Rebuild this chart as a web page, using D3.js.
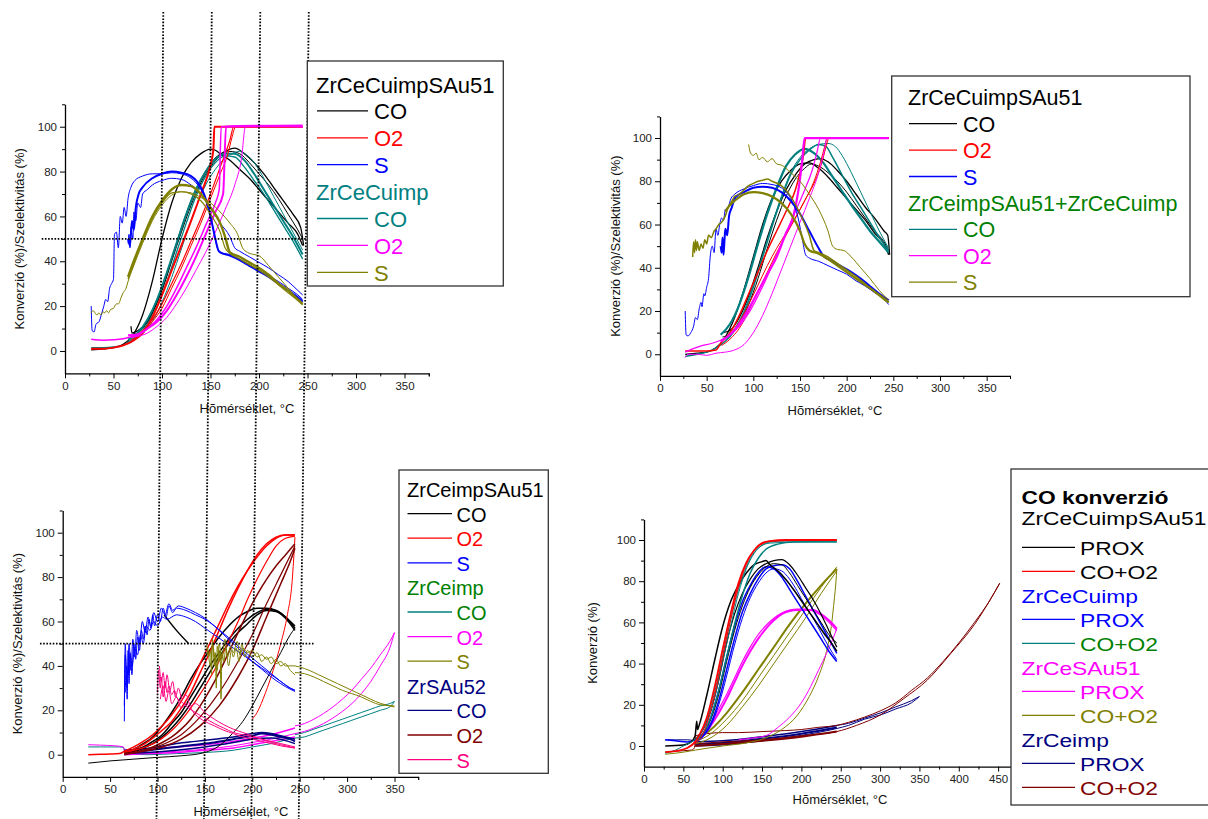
<!DOCTYPE html>
<html><head><meta charset="utf-8">
<script src="https://cdn.jsdelivr.net/npm/d3@7"></script>
<style>body{margin:0;background:#fff}svg{display:block}text{font-family:Arial,"Liberation Sans",sans-serif}</style>
</head><body><svg id="c" width="1208" height="819"></svg>
<script>
// ---------------- DATA ----------------
const xTicks = [0,50,100,150,200,250,300,350];
const xTicks4 = [0,50,100,150,200,250,300,350,400,450];
const yTicks = [0,20,40,60,80,100];
const refTemps = [100,150,200,250];
const refSel = 50;

// Panel 1
const p1_CO_a=[[27,0.5],[40,1],[50,1.5],[60,3],[70,7],[80,16],[90,31],[100,50],[110,66],[120,77],[130,84],[140,88],[150,90],[155,89.5],[160,88],[170,85],[180,81],[190,77],[200,72],[210,67],[220,62],[230,57],[240,52],[245,47]];
const p1_CO_b=[[68,11],[69,8],[75,9],[85,13],[95,22],[105,34],[115,48],[125,61],[135,72],[145,80],[155,86],[165,89],[175,90.5],[185,88],[195,84],[205,79],[215,73],[225,67],[235,61],[243,55],[246,47]];
const p1_CO_c=[[68,7],[80,10],[90,17],[100,27],[110,40],[120,53],[130,65],[140,75],[150,82],[160,87],[170,89],[180,88],[190,84],[200,79],[210,74],[220,68],[230,61],[240,54],[245,50]];
const p1_tCO_a=[[27,1.5],[40,1.5],[50,1.8],[60,2.5],[65,4],[75,7],[85,12],[95,20],[105,31],[115,44],[125,57],[135,69],[145,78],[155,84],[165,87],[175,86.5],[185,82],[195,76],[205,70],[215,63],[225,56],[235,49],[245,41]];
const p1_tCO_b=[[65,5],[75,8],[85,14],[95,23],[105,35],[115,48],[125,61],[135,72],[145,80],[155,85.5],[165,88],[175,88],[185,85],[195,79],[205,72],[215,65],[225,58],[235,51],[245,43]];
const p1_tCO_c=[[65,4],[75,6],[85,10],[95,17],[105,27],[115,39],[125,52],[135,64],[145,74],[155,81],[165,86],[175,88.5],[180,89],[185,88],[195,84],[205,77],[215,69],[225,61],[235,53],[245,45]];
const p1_O2_a=[[27,1],[40,1],[50,1.5],[60,2.5],[70,4.5],[80,8],[90,15],[100,25],[110,36],[120,47],[130,58],[140,70],[150,83],[153,90],[154,100],[170,100],[200,100],[245,100]];
const p1_O2_b=[[68,6],[80,9],[90,14],[100,21],[110,30],[120,39],[130,49],[140,59],[150,70],[160,82],[170,94],[174,100],[200,100],[245,100]];
const p1_O2_c=[[68,5],[80,8],[90,13],[100,19],[110,28],[120,37],[130,47],[140,57],[150,68],[160,79],[168,88],[172,95],[176,100],[245,100]];
const p1_mO2_a=[[27,5.2],[40,4.8],[50,5],[60,5.5],[65,6],[75,7],[85,10],[95,14],[105,20],[115,28],[125,37],[135,46],[145,56],[155,66],[159,72],[161,100],[200,100.5],[245,100]];
const p1_mO2_b=[[65,7],[75,7.5],[85,10],[95,13],[105,18],[115,25],[125,33],[135,42],[145,52],[155,62],[163,70],[166,100],[245,100.5]];
const p1_mO2_c=[[65,6],[75,6.5],[85,8],[95,11],[105,15],[115,21],[125,28],[135,36],[145,44],[155,53],[165,63],[175,74],[182,86],[186,100],[245,100]];
const p1_S_a=[[27,20],[28,9],[30,8.5],[32,12],[35,13],[38,17],[40,20],[42,23],[44,22],[46,28],[48,30],[50,32],[51,52],[53,53],[55,46],[57,60],[59,57],[61,64],[63,60],[65,68],[68,73],[72,76],[80,78],[90,79],[100,79],[110,79.5],[120,79],[130,77],[140,72],[148,64],[153,54],[157,46],[160,44],[170,43],[180,41],[190,38.5],[200,36],[210,33.5],[220,31],[230,28],[240,25],[245,23]];
const p1_S_b=[[65,48],[66,52],[67,46],[68,55],[70,50],[71,62],[73,58],[75,66],[78,64],[80,70],[85,72],[90,74],[100,76],[110,77],[120,76.5],[130,74],[140,70],[150,64],[160,57],[170,51],[175,46],[180,44.5],[190,42],[200,39.5],[210,37],[220,34],[230,31],[240,27],[245,25]];
const p1_S_c=[[65,50],[67,47],[69,58],[71,54],[73,64],[76,70],[80,73],[90,77],[100,79],[110,80],[120,79.5],[130,78],[140,73],[145,68],[150,60],[155,50],[158,45],[160,44],[170,42.5],[180,40.5],[190,38],[200,35.5],[210,33],[220,30],[230,27],[240,24],[245,22]];
const p1_oS_a=[[27,17],[29,18],[31,17],[33,16],[35,17],[37,16],[39,17.5],[41,17],[43,18],[45,17],[47,18.5],[50,19],[53,21],[55,21],[58,24],[60,26],[63,28],[65,31],[70,37],[80,48],[90,58],[100,65],[110,69.5],[120,71],[130,70.5],[140,68.5],[150,66],[160,62],[170,57],[178,52],[183,46],[188,44],[195,43],[200,42.5],[210,38],[220,33],[230,28],[240,23],[245,21]];
const p1_oS_b=[[65,33],[70,39],[80,50],[90,60],[100,67],[110,72],[120,74],[130,73.5],[140,70],[150,64],[160,57],[165,51],[170,44],[180,42],[190,39.5],[200,37],[210,34],[220,30],[230,27],[240,23],[245,21]];
const p1_oS_c=[[65,32],[70,38],[80,49],[90,59],[100,66],[110,70.5],[120,71],[130,70],[140,67],[150,61],[160,53],[165,46],[170,43.5],[180,41],[190,38.5],[200,36],[210,33],[220,29.5],[230,26],[240,22.5],[245,20.5]];

// Panel 2
const p2_CO_a=[[27,0],[40,0.5],[50,1],[60,3],[70,8],[80,17],[90,30],[100,45],[110,60],[120,72],[130,80],[140,85],[150,88],[160,88.5],[170,86],[180,82],[190,77],[200,72],[210,67],[220,62],[230,56],[240,51],[245,46]];
const p2_CO_b=[[67,10],[75,11],[85,17],[95,27],[105,40],[115,54],[125,66],[135,76],[145,83],[155,88],[165,90],[172,90.5],[180,89],[190,85],[200,80],[210,74],[220,68],[230,63],[240,57],[244,55],[246,46]];
const p2_CO_c=[[67,8],[75,9],[85,14],[95,23],[105,35],[115,49],[125,62],[135,73],[145,81],[155,86],[162,88],[170,87],[180,84],[190,80],[200,75],[210,69],[220,63],[230,57],[240,52],[245,48]];
const p2_tCO_a=[[65,9],[75,14],[85,23],[95,36],[105,51],[115,65],[125,77],[135,87],[145,92.5],[155,95],[165,93],[175,88.5],[185,82],[195,75.5],[205,69],[215,63],[225,57],[235,52],[245,47]];
const p2_tCO_b=[[27,-1],[40,0],[50,1],[60,3],[70,6],[80,11],[90,19],[100,31],[110,45],[120,59],[130,72],[140,83],[150,90],[160,94.5],[170,97],[178,96],[185,91],[195,83],[205,75],[215,68],[225,61],[235,54],[245,48]];
const p2_tCO_c=[[70,7],[80,12],[90,20],[100,32],[110,46],[120,60],[130,73],[140,84],[150,91],[160,95],[170,97],[180,97.5],[188,96],[195,92],[205,84],[215,75],[225,66],[235,57],[245,49]];
const p2_O2_a=[[27,1.5],[40,1.5],[50,1.5],[60,2],[65,5],[75,10],[85,18],[95,28],[105,38],[115,48],[125,57],[135,66],[145,76],[150,84],[154,93],[156,100],[200,100],[245,100]];
const p2_O2_b=[[65,6],[75,9],[85,15],[95,23],[105,32],[115,41],[125,49],[135,56],[145,63],[155,71],[165,80],[172,89],[177,97],[179,100],[245,100]];
const p2_O2_c=[[66,4],[75,7],[85,12],[95,20],[105,29],[115,38],[125,47],[135,55],[145,63],[155,71],[165,79],[173,88],[178,96],[181,100],[245,100]];
const p2_mO2_a=[[27,-1.5],[30,0],[40,0],[50,-0.5],[60,0.5],[70,1],[80,2],[90,4.5],[100,10],[110,18],[120,28],[130,39],[140,50],[150,61],[160,72],[170,84],[176,94],[179,100],[245,100]];
const p2_mO2_b=[[65,6],[75,9],[85,14],[95,21],[105,29],[115,37],[125,45],[135,56],[143,64],[148,75],[152,88],[155,100],[200,100],[245,100]];
const p2_mO2_c=[[27,1],[35,2.5],[45,4],[55,5],[65,6.5],[75,9],[85,13],[95,19],[105,27],[115,36],[125,46],[135,56],[145,66],[155,76],[163,85],[168,93],[172,100],[245,100]];
const p2_S_a=[[27,20],[28,9],[30,8.5],[33,10],[36,13],[38,17],[40,16],[42,21],[44,24],[45,22],[47,28],[48,27],[50,31],[52,35],[54,46],[56,50],[58,47],[60,58],[62,55],[64,60],[66,63],[68,62],[70,67],[73,68],[76,72],[80,74],[90,76.5],[100,78],[110,79],[120,78.5],[130,77],[140,72],[148,63],[153,52],[156,46],[160,44.5],[170,43],[180,41],[190,39],[200,37],[210,34],[220,31.5],[230,28.5],[240,25.5],[245,23]];
const p2_S_b=[[65,50],[66,47],[67,54],[68,46],[69,52],[70,58],[72,55],[74,64],[77,68],[80,72],[85,74],[90,75],[100,77],[110,77.5],[120,77],[130,75],[140,71],[150,65],[160,57],[170,49],[175,45.5],[185,43],[195,40.5],[205,38],[215,35],[225,31.5],[235,28],[245,25]];
const p2_oS_a=[[35,45],[36,52],[37,47],[38,53],[39,48],[40,52],[42,48],[44,51],[46,49],[48,53],[50,51],[52,55],[55,54],[58,57],[60,58],[63,60],[66,61],[70,64],[73,68],[76,70],[80,73],[85,74],[90,76],[95,78],[100,79],[105,80],[110,80.5],[115,81],[120,80],[130,78],[140,73],[150,65],[160,55],[165,48],[170,47],[180,45],[190,42],[200,39],[210,36],[220,32.5],[230,29],[240,26],[245,24]];
const p2_oS_b=[[70,66],[75,69],[80,71],[90,74],[100,75],[110,74.5],[120,73],[130,70],[140,65],[150,57],[155,51],[160,48],[170,46.5],[180,44],[190,41],[200,38],[210,35],[220,32],[230,29],[240,25.5],[245,24]];
const p2_oS_c=[[95,97],[97,93],[100,92],[103,93],[106,90],[110,91],[115,89],[120,90.5],[125,88],[130,87.5],[140,84],[150,80],[160,74],[170,67],[180,57],[185,50],[190,48.5],[197,48],[205,45],[215,40],[225,35],[235,29.5],[245,25]];

// Panel 3
const p3_CO_a=[[27,-3.8],[50,-2.8],[75,-2],[100,-1.2],[125,-0.5],[150,1],[165,4],[180,10],[190,15],[200,22],[210,30],[220,38],[230,46],[240,54],[245,57]];
const p3_CO_b=[[65,1],[75,2.5],[85,5],[95,8],[105,13],[115,19],[125,26],[135,34],[145,41],[155,47],[165,53],[175,58],[185,62],[195,64.5],[205,66],[215,66],[225,65],[235,62],[245,57]];
const p3_CO_c=[[65,1],[75,2],[85,3.5],[95,6],[105,9],[115,14],[125,19],[135,26],[145,33],[155,40],[165,46],[175,52],[185,57],[195,61],[205,64],[215,65.5],[225,65],[235,62],[245,58]];
const p3_CO_d=[[65,0.5],[75,1.5],[85,3],[95,5],[105,8],[115,12],[125,17],[135,23],[145,30],[155,37],[165,44],[175,50],[185,55],[195,59],[205,63],[215,65],[225,64.5],[235,61.5],[245,56]];
const p3_CO_e=[[107,63],[120,56],[133,50]];
const p3_O2_a=[[27,0],[40,0.2],[50,0.3],[60,0.5],[65,1.5],[75,3.5],[85,6],[95,9],[105,13],[115,18],[125,24],[135,32],[145,41],[155,50],[165,59],[175,68],[185,76],[195,83],[205,89],[215,94],[225,97.5],[235,99],[245,99]];
const p3_O2_b=[[65,1],[75,2.5],[85,4.5],[95,7.5],[105,11],[115,15],[125,21],[135,28],[145,37],[155,46],[165,56],[175,66],[185,75],[195,83],[205,90],[215,95],[225,98],[235,99],[245,99]];
const p3_O2_c=[[65,1],[80,2.5],[100,6],[120,13],[140,24],[160,38],[175,51],[185,60],[195,70],[205,79],[215,87],[225,94],[235,97.5],[245,98.5]];
const p3_O2_d=[[200,16],[205,19],[214,28],[222,38],[230,50],[237,63],[242,78],[245,98]];
const p3_dO2_a=[[65,0.5],[75,1],[85,2],[95,3.5],[105,5.5],[115,8],[125,11.5],[135,16],[145,22],[155,29],[165,37],[175,46],[185,55],[195,64],[205,72],[215,79],[225,85],[235,90],[245,95]];
const p3_dO2_b=[[65,0],[85,1.5],[105,3.5],[125,7],[145,13],[165,22],[185,35],[200,47],[215,62],[230,77],[240,87],[245,93]];
const p3_dO2_c=[[65,0.5],[85,2],[105,4.5],[125,9],[145,17],[165,28],[185,42],[200,54],[215,68],[230,81],[245,94]];
const p3_S_a=[[65,15],[66,50],[67,38],[68,25],[69,47],[70,32],[71,46],[73,36],[75,50],[77,43],[79,53],[81,47],[83,56],[85,52],[87,58],[89,54],[91,61],[93,57],[95,63],[97,58],[100,63],[103,60],[106,66],[109,62],[112,67],[116,64],[120,66],[130,65],[140,63],[150,61],[160,58],[170,54.5],[180,51],[190,47],[200,43.5],[210,40],[220,36.5],[230,33],[240,30],[245,29]];
const p3_S_b=[[65,22],[66,45],[68,30],[70,50],[72,38],[74,52],[76,44],[78,56],[81,50],[84,60],[87,55],[90,62],[93,58],[96,64],[100,60],[104,66],[108,63],[112,68],[116,65],[122,67],[130,66],[140,64],[150,61.5],[160,58],[170,54],[180,50],[190,46],[200,42],[210,38.5],[220,35],[230,32],[240,29.5],[245,28.5]];
const p3_S_c=[[66,28],[67,40],[69,36],[71,45],[73,40],[76,48],[79,45],[82,54],[85,50],[88,58],[92,56],[96,60],[100,58],[105,62],[110,61],[120,63],[130,62],[140,60],[150,57],[160,54],[170,51],[180,48],[190,45],[200,42],[210,39],[220,36],[230,33],[240,30],[245,29]];
const p3_oS_a=[[152,50],[154,44],[156,47],[157,36],[158,52],[160,40],[161,46],[162,30],[163,49],[165,42],[166,47],[167,25],[168,46],[170,42],[172,48],[175,40],[178,47],[180,44],[183,48],[186,42],[189,50],[192,44],[195,47],[200,44],[205,46],[210,42],[215,44],[220,41],[225,43],[230,40],[235,41],[240,38],[245,36]];
const p3_oS_b=[[153,48],[156,40],[158,50],[160,45],[163,38],[165,50],[168,43],[171,52],[174,44],[177,49],[180,46],[184,51],[187,45],[190,48],[195,46],[200,47],[205,44],[210,45],[215,43],[220,44],[225,41],[230,42],[235,40],[240,40],[245,40]];
const p3_oS_c=[[245,40],[250,39.5],[260,38],[270,36],[280,34],[290,32],[300,30],[310,28],[320,26],[330,24],[340,22.5],[350,21.5]];
const p3_oS_d=[[245,37],[255,36.5],[265,35],[275,33],[285,31],[295,29],[305,27.5],[315,26],[325,24],[335,22.5],[350,22]];
const p3_pS_a=[[100,28],[101,38],[103,30],[104,35],[106,26],[108,33],[110,28],[112,31],[115,27],[118,29],[120,26],[125,24],[130,22],[140,19],[150,16.5],[160,14],[170,12],[180,10],[190,9],[200,8],[210,7],[220,5.5],[230,4.5],[240,3.5],[245,3]];
const p3_pS_b=[[102,40],[104,33],[106,37],[108,30],[110,36],[113,29],[116,33],[119,26],[122,30],[126,25],[130,27],[135,22],[140,23],[150,19],[160,16],[170,13.5],[180,11.5],[190,10],[200,8.5],[210,7],[220,6],[230,5],[240,4],[245,3.5]];
const p3_pS_c=[[103,25],[106,31],[109,24],[112,29],[115,23],[120,26],[125,21],[130,23],[140,18],[150,15],[160,13],[170,11],[180,9.5],[190,8],[200,7],[210,6],[220,5],[230,4],[245,3]];
const p3_nCO_a=[[65,1],[80,1.5],[100,2.5],[120,3.5],[140,4.5],[160,5.5],[180,7],[200,8.5],[210,9.5],[220,9],[230,8],[240,7],[245,6]];
const p3_nCO_b=[[65,2],[80,2.5],[100,3.5],[120,5],[140,6],[160,7],[180,8],[200,9.5],[210,10],[220,9.5],[230,8.5],[245,7]];
const p3_nCO_c=[[65,0.5],[90,1],[120,2],[150,3.5],[180,5.5],[200,7],[220,7.5],[245,5]];
const p3_tCO_a=[[27,3.5],[40,3.5],[60,3.5],[64,3.2],[66,0.5],[90,0],[120,0.5],[150,1],[180,2],[200,3.5],[220,5],[245,7.5],[255,8],[265,9.5],[275,11],[285,12.5],[295,14],[305,15.5],[315,17],[325,18.5],[335,20],[345,21.5],[350,24]];
const p3_tCO_b=[[245,9],[255,10],[265,11.5],[275,13],[285,14.5],[295,16],[305,17.5],[315,19],[325,20.5],[335,22],[345,23],[350,24]];
const p3_mO2_a=[[27,4.5],[40,4.3],[55,4],[64,3.5],[66,1],[90,1],[120,1.5],[150,2.5],[180,4],[200,5.5],[220,7],[245,9.5],[255,10.5],[265,12],[275,14],[285,16.5],[295,19.5],[305,23],[315,27.5],[325,33],[335,40],[345,48],[350,55]];
const p3_mO2_b=[[245,13],[255,14],[265,16],[275,18.5],[285,21.5],[295,25],[305,29],[315,34],[325,39],[335,45],[345,51],[350,55]];
const p3_mO2_c=[[65,0],[90,0.5],[120,1],[150,2],[180,3],[200,4.5],[220,6],[245,8]];
const p3_mO2_d=[[65,2],[90,2.5],[120,3.5],[150,4.5],[180,6],[200,7.5],[220,9],[245,12]];

// Panel 4
const p4_red_a=[[27,-3],[40,-2.5],[55,-1],[65,2],[70,5],[80,14],[90,29],[100,47],[110,64],[120,79],[130,89],[140,95],[150,98.5],[160,99.5],[180,100],[210,100],[245,100]];
const p4_red_b=[[65,1],[72,4],[80,11],[90,25],[100,43],[110,61],[120,77],[130,88],[140,95],[150,98],[160,99.5],[245,100]];
const p4_teal_a=[[27,-3.5],[40,-2],[50,0],[60,2],[70,5],[80,12],[90,24],[100,41],[110,58],[120,74],[130,86],[140,93.5],[150,97.5],[160,99],[180,99.5],[245,99.5]];
const p4_teal_b=[[65,2],[75,6],[85,14],[95,27],[105,43],[115,59],[125,73],[135,84],[145,91],[155,95.5],[170,98],[190,99],[245,99]];
const p4_teal_c=[[65,3],[75,8],[85,19],[95,35],[105,53],[115,69],[125,82],[135,91],[145,96],[160,98.5],[245,99.5]];
const p4_blk_a=[[27,0],[50,0.5],[60,2],[65,5],[67,12],[68,8],[70,10],[80,25],[90,42],[100,58],[110,70],[120,78],[130,84],[140,88],[150,89.5],[155,90],[160,88],[170,85],[180,81],[190,76],[200,70.5],[210,65],[220,59.5],[230,54],[240,49],[245,46]];
const p4_blk_b=[[65,3],[75,8],[85,17],[95,32],[105,50],[115,64],[125,74],[135,81],[145,86],[155,88.5],[165,90],[175,90.5],[185,88],[195,83],[205,77],[215,71],[225,64],[235,56],[245,48]];
const p4_blk_c=[[65,2],[75,6],[85,13],[95,25],[105,41],[115,56],[125,68],[135,77],[145,83],[155,87],[165,88.5],[175,88],[185,84],[195,78],[205,72],[215,66],[225,60],[235,54],[245,50]];
const p4_blu_a=[[27,3],[40,2.5],[55,2],[65,3],[75,6],[85,14],[95,27],[105,43],[115,58],[125,70],[135,78],[145,84],[155,87],[165,86],[175,82],[185,76],[195,70],[205,64],[215,58],[225,52],[235,46],[245,41]];
const p4_blu_b=[[65,2],[75,5],[85,11],[95,22],[105,37],[115,52],[125,65],[135,74],[145,81],[155,86],[165,87.5],[175,88],[185,86],[195,80],[205,73],[215,66],[225,59],[235,52],[245,45]];
const p4_blu_c=[[65,2],[75,4.5],[85,10],[95,20],[105,34],[115,49],[125,62],[135,72],[145,79],[155,84],[165,86],[175,85],[185,81],[195,75],[205,68],[215,62],[225,55],[235,48],[245,42]];
const p4_mag_a=[[65,2],[75,5],[85,10],[95,16],[105,23],[115,31],[125,39],[135,46],[145,52],[155,57],[165,61],[175,64],[185,65.5],[195,66],[205,66],[215,66],[225,64],[235,61],[245,57]];
const p4_mag_b=[[65,3],[75,6],[85,11],[95,18],[105,25],[115,33],[125,41],[135,48],[145,54],[155,58.5],[165,62],[175,64.5],[185,66],[195,66.5],[205,66.5],[215,65.5],[225,63.5],[235,60],[245,56]];
const p4_mag_c=[[120,3],[140,4],[155,5],[170,9],[185,14],[200,21],[212,29],[222,37],[232,45],[240,52],[245,57]];
const p4_olv_a=[[65,3],[85,8],[105,16],[125,26],[145,37],[165,48],[185,59],[205,69],[225,78],[245,86]];
const p4_olv_b=[[65,1],[85,4],[105,10],[125,19],[145,29],[165,40],[185,51],[205,62],[225,74],[245,85]];
const p4_olv_c=[[65,2],[85,6],[105,13],[125,22],[145,33],[165,44],[185,55],[205,66],[225,77],[245,87]];
const p4_olv_d=[[27,-4],[50,-3],[65,-2],[100,0],[130,1.5],[155,4],[175,8],[195,15],[210,24],[222,34],[232,46],[238,58],[242,72],[244,80],[245,86]];
const p4_nav_a=[[27,3],[40,3],[55,3],[64,2.5],[66,0],[100,0.5],[140,2],[180,4],[220,6.5],[245,8.5],[260,10],[280,13],[300,15],[320,18],[340,21],[350,24]];
const p4_nav_b=[[245,10],[260,11],[280,13.5],[300,16],[320,19],[340,22],[350,24]];
const p4_nav_c=[[65,1],[100,1.5],[150,3.5],[200,6],[245,9]];
const p4_nav_d=[[65,2],[100,2.5],[150,4.5],[200,7],[245,10]];
const p4_drd_a=[[27,-3],[40,-2.5],[60,-2],[64,-1],[66,5],[80,6],[100,6.5],[120,6.5],[150,7],[180,7.5],[200,8],[220,9],[245,10],[260,11.5],[280,14],[300,17],[320,21],[340,27],[360,33],[380,41],[400,50],[420,60],[440,71],[452,79]];
const p4_drd_b=[[65,1],[100,2],[150,3],[200,5],[245,7],[270,10],[300,15],[330,23],[360,32],[390,45],[420,59],[452,79]];
const p4_drd_c=[[65,0],[100,1],[150,2.5],[200,4.5],[245,7]];

// Legend labels
const leg1 = [["ZrCeCuimpSAu51",null,"#000"],["CO","#000","#000"],["O2","#ff0000","#ff0000"],["S","#0000ff","#0000ff"],["ZrCeCuimp",null,"#008080"],["CO","#008080","#008080"],["O2","#ff00ff","#ff00ff"],["S","#808000","#808000"]];
const leg2 = [["ZrCeCuimpSAu51",null,"#000"],["CO","#000","#000"],["O2","#ff0000","#ff0000"],["S","#0000ff","#0000ff"],["ZrCeimpSAu51+ZrCeCuimp",null,"#008000"],["CO","#008080","#008000"],["O2","#ff00ff","#ff00ff"],["S","#808000","#808000"]];
const leg3 = [["ZrCeimpSAu51",null,"#000"],["CO","#000","#000"],["O2","#ff0000","#ff0000"],["S","#0000ff","#0000ff"],["ZrCeimp",null,"#008000"],["CO","#008080","#008000"],["O2","#ff00ff","#ff00ff"],["S","#808000","#808000"],["ZrSAu52",null,"#000080"],["CO","#000080","#000080"],["O2","#800000","#800000"],["S","#ff0080","#ff0080"]];
const leg4 = [["ZrCeCuimpSAu51",null,"#000"],["PROX","#000","#000"],["CO+O2","#ff0000","#000"],["ZrCeCuimp",null,"#0000ff"],["PROX","#0000ff","#0000ff"],["CO+O2","#008080","#008000"],["ZrCeSAu51",null,"#ff00ff"],["PROX","#ff00ff","#ff00ff"],["CO+O2","#808000","#808000"],["ZrCeimp",null,"#000080"],["PROX","#000080","#000080"],["CO+O2","#800000","#800000"]];

// ---------------- DRAWING ----------------
const K="#000",R="#ff0000",B="#0000ff",T="#008080",M="#ff00ff",O="#808000",N="#000080",DR="#800000",P="#ff0080";
const svg = d3.select("#c");
const panels = [
 {x:[65,428.75], y:[373.4,104.3], xmax:375, xt:xTicks, ylab:"Konverzió (%)/Szelektivitás (%)", ylx:19, xlx:247, xly:413,
  series:[[p1_CO_a,K,1.3],[p1_CO_b,K,1.3],[p1_CO_c,K,1],[p1_tCO_a,T,1.3],[p1_tCO_b,T,2],[p1_tCO_c,T,1],[p1_O2_a,R,2],[p1_O2_b,R,1.2],[p1_O2_c,R,1],[p1_mO2_a,M,1.5],[p1_mO2_b,M,2],[p1_mO2_c,M,1],[p1_S_a,B,1],[p1_S_b,B,1],[p1_S_c,B,2],[p1_oS_a,O,1],[p1_oS_b,O,2.4],[p1_oS_c,O,1.2]]},
 {x:[660,1010], y:[375.9,116.4], xmax:375, xt:xTicks, ylab:"Konverzió (%)/Szelektivitás (%)", ylx:615, xlx:835, xly:414.5,
  series:[[p2_CO_a,K,1.3],[p2_CO_b,K,1.3],[p2_CO_c,K,1],[p2_tCO_a,T,2.2],[p2_tCO_b,T,1.5],[p2_tCO_c,T,1],[p2_O2_a,R,1.5],[p2_O2_b,R,1],[p2_O2_c,R,1],[p2_mO2_a,M,1],[p2_mO2_b,M,2.2],[p2_mO2_c,M,1.2],[p2_S_a,B,1],[p2_S_b,B,2],[p2_oS_a,O,1.5],[p2_oS_b,O,2.2],[p2_oS_c,O,1]]},
 {x:[62.7,418.2], y:[776.9,510.5], xmax:375, xt:xTicks, ylab:"Konverzió (%)/Szelektivitás (%)", ylx:17, xlx:241, xly:816,
  series:[[p3_tCO_a,T,1],[p3_tCO_b,T,1],[p3_mO2_a,M,1],[p3_mO2_b,M,1],[p3_mO2_c,M,1.5],[p3_mO2_d,M,1.5],[p3_nCO_a,N,2],[p3_nCO_b,N,1.5],[p3_nCO_c,N,1.5],[p3_CO_a,K,1],[p3_CO_b,K,1.5],[p3_CO_c,K,1.5],[p3_CO_d,K,1.5],[p3_CO_e,K,1.5],[p3_O2_a,R,1.5],[p3_O2_b,R,1.5],[p3_O2_c,R,1.2],[p3_O2_d,R,1],[p3_dO2_a,DR,1.5],[p3_dO2_b,DR,1.5],[p3_dO2_c,DR,1.2],[p3_S_a,B,1],[p3_S_b,B,1],[p3_S_c,B,1],[p3_pS_a,P,1],[p3_pS_b,P,1],[p3_pS_c,P,1],[p3_oS_a,O,1],[p3_oS_b,O,1],[p3_oS_c,O,1],[p3_oS_d,O,1]]},
 {x:[644,1017.8], y:[766.6,519.4], xmax:475, xt:xTicks4, ylab:"Konverzió (%)", ylx:592, xlx:840, xly:804,
  series:[[p4_nav_a,N,1],[p4_nav_b,N,1],[p4_nav_c,N,2],[p4_nav_d,N,1.5],[p4_drd_a,DR,1],[p4_drd_b,DR,1],[p4_drd_c,DR,2],[p4_olv_a,O,2],[p4_olv_b,O,1],[p4_olv_c,O,1],[p4_olv_d,O,1],[p4_mag_a,M,2],[p4_mag_b,M,1.2],[p4_mag_c,M,1],[p4_blu_a,B,1.5],[p4_blu_b,B,1.5],[p4_blu_c,B,1],[p4_blk_a,K,1.5],[p4_blk_b,K,1.2],[p4_blk_c,K,1],[p4_teal_a,T,1],[p4_teal_b,T,1.5],[p4_teal_c,T,1],[p4_red_a,R,1.8],[p4_red_b,R,1]]}
];

panels.forEach(p=>{
  const xs = d3.scaleLinear().domain([0,p.xmax]).range(p.x);
  const ys = d3.scaleLinear().domain([-10,110]).range(p.y);
  p.xs=xs; p.ys=ys;
  const g = svg.append("g");
  const line = d3.line().x(d=>xs(d[0])).y(d=>ys(d[1])).curve(d3.curveMonotoneX);
  p.series.forEach(s=>{
    g.append("path").attr("d",line(s[0])).attr("fill","none").attr("stroke",s[1]).attr("stroke-width",s[2]).attr("stroke-linejoin","round");
  });
  const xMinor = d3.range(25,p.xmax+1,50).concat([p.xmax]);
  const yMinor = [10,30,50,70,90,110];
  const ax = d3.axisBottom(xs).tickValues(xMinor).tickSize(3).tickFormat("").tickSizeOuter(0);
  g.append("g").attr("transform",`translate(0,${p.y[0]})`).call(ax).call(a=>a.select(".domain").remove());
  const axM = d3.axisBottom(xs).tickValues(p.xt).tickSize(5).tickPadding(3).tickSizeOuter(0);
  g.append("g").attr("transform",`translate(0,${p.y[0]})`).call(axM);
  const ay = d3.axisLeft(ys).tickValues(yMinor).tickSize(3).tickFormat("").tickSizeOuter(0);
  g.append("g").attr("transform",`translate(${p.x[0]},0)`).call(ay).call(a=>a.select(".domain").remove());
  const ayM = d3.axisLeft(ys).tickValues(yTicks).tickSize(5).tickPadding(3).tickSizeOuter(0);
  g.append("g").attr("transform",`translate(${p.x[0]},0)`).call(ayM);
  g.selectAll(".domain").attr("stroke","#000").attr("stroke-width",1.3);
  g.selectAll(".tick line").attr("stroke","#000").attr("stroke-width",1);
  g.selectAll(".tick text").attr("font-size",11.5).attr("fill","#222").style("font-family","Arial, 'Liberation Sans', sans-serif");
  g.append("text").attr("transform",`translate(${p.ylx},${(p.y[0]+p.y[1])/2}) rotate(-90)`).attr("text-anchor","middle").attr("dominant-baseline","central").attr("font-size",13).attr("fill","#111").text(p.ylab);
  g.append("text").attr("x",p.xlx).attr("y",p.xly).attr("text-anchor","middle").attr("font-size",13).attr("fill","#111").text("Hõmérséklet, °C");
});

// reference dotted lines (panels 1 and 3)
const ref = svg.append("g").attr("stroke","#000").attr("stroke-width",1.8).attr("stroke-dasharray","1.6,1.6").attr("fill","none");
refTemps.forEach(t=>{
  ref.append("line").attr("x1",panels[0].xs(t)+1.3).attr("y1",12).attr("x2",panels[2].xs(t)-1).attr("y2",819);
});
[0,2].forEach(i=>{
  const p=panels[i];
  ref.append("line").attr("x1",p.xs(-24)).attr("x2",p.xs(265)).attr("y1",p.ys(refSel)).attr("y2",p.ys(refSel));
});

// legends
function legend(items, box, o){
  const g = svg.append("g");
  g.append("rect").attr("x",box[0]).attr("y",box[1]).attr("width",box[2]-box[0]).attr("height",box[3]-box[1]).attr("fill","#fff").attr("stroke","#333").attr("stroke-width",1.3);
  items.forEach((it,i)=>{
    const cy = o.rows ? o.rows[i] : o.y0 + i*o.step;
    const t = g.append("text").attr("font-size",o.fs).attr("fill",it[2]).attr("dominant-baseline","central").text(it[0]);
    const sx = o.sx||1;
    if(it[1]===null){
      t.attr("transform",`translate(${o.tx},${cy}) scale(${sx},1)`);
    } else {
      g.append("line").attr("x1",o.lx0).attr("x2",o.lx1).attr("y1",cy-1).attr("y2",cy-1).attr("stroke",it[1]).attr("stroke-width",1.3);
      t.attr("transform",`translate(${o.lt},${cy}) scale(${sx},1)`);
    }
  });
  return g;
}
legend(leg1,[307.3,61,503.3,286],{fs:22,y0:85,step:26.9,tx:316,lx0:317,lx1:368,lt:374});
legend(leg2,[891.7,76,1190,296.7],{fs:21.5,y0:98.3,step:26.4,tx:908,lx0:909,lx1:957,lt:963});
legend(leg3,[399,470,548.3,773.3],{fs:20,y0:490,step:24.6,tx:407,lx0:407.5,lx1:452,lt:456.5});
const g4 = legend(leg4,[1011,469,1215,805],{fs:19,rows:[518.3].concat(d3.range(11).map(i=>548.3+i*24)),tx:1021.5,lx0:1022,lx1:1075,lt:1080,sx:1.2});
g4.append("text").attr("transform","translate(1021.5,497.3) scale(1.2,1)").attr("dominant-baseline","central").attr("font-size",19).attr("font-weight","bold").attr("fill","#000").text("CO konverzió");
</script></body></html>
